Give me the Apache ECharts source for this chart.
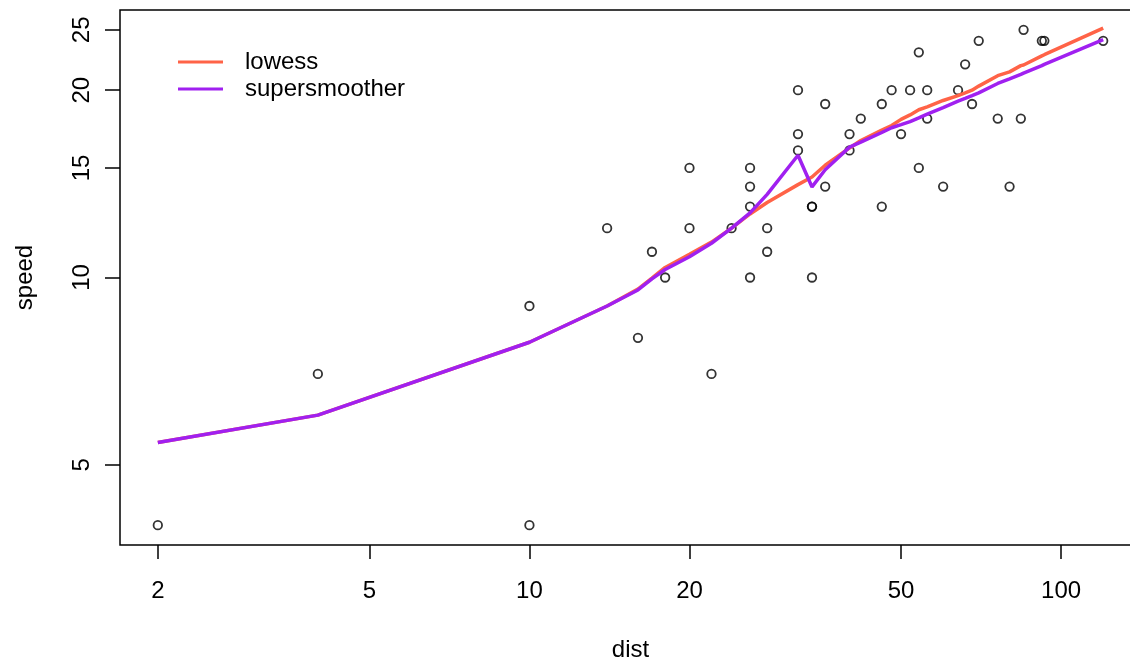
<!DOCTYPE html>
<html>
<head>
<meta charset="utf-8">
<script src="https://cdn.jsdelivr.net/npm/echarts@6/dist/echarts.min.js"></script>
<style>
html,body{margin:0;padding:0;background:#fff;overflow:hidden;}
#chart{width:1130px;height:662px;}
</style>
</head>
<body>
<div id="chart"></div>
<script>
// cars dataset
var dist = [2,10,4,22,16,10,18,26,34,17,28,14,20,24,28,26,34,34,46,26,36,60,80,20,26,54,32,40,32,40,50,42,56,76,84,36,46,68,32,48,52,56,64,66,54,70,92,93,120,85];
var speed = [4,4,7,7,8,9,10,10,10,11,11,12,12,12,12,13,13,13,13,14,14,14,14,15,15,15,16,16,17,17,17,18,18,18,18,19,19,19,20,20,20,20,20,22,23,24,24,24,24,25];

// smoother fits
var smoothX = [2,4,10,14,16,17,18,20,22,24,26,28,32,34,36,40,42,46,48,50,52,54,56,60,64,66,68,70,76,80,84,85,92,93,120];
var lowessY = [5.43,6.01,7.87,9.0,9.58,9.98,10.38,10.9,11.4,12.0,12.65,13.2,14.1,14.5,15.15,16.15,16.6,17.25,17.55,17.95,18.25,18.6,18.8,19.25,19.6,19.8,20.0,20.3,21.1,21.4,21.9,21.95,22.7,22.8,25.15];
var supsmuY = [5.43,6.01,7.87,9.0,9.55,9.95,10.3,10.8,11.35,12.0,12.7,13.6,15.72,13.98,14.9,16.2,16.5,17.1,17.4,17.6,17.8,18.05,18.3,18.75,19.2,19.4,19.6,19.8,20.5,20.85,21.2,21.3,21.9,22.0,24.1];

var xTicks = [2,5,10,20,50,100];
var yTicks = [5,10,15,20,25];

var L = Math.log10;
function pairs(xs, ys){ return xs.map(function(x,i){ return [L(x), L(ys[i])]; }); }
function ext(arr){
  var lo = L(Math.min.apply(null, arr)), hi = L(Math.max.apply(null, arr));
  var pad = (hi - lo) * 0.04;
  return [lo - pad, hi + pad];
}
var xr = ext(dist), yr = ext(speed);
var FONT = '"Liberation Sans", Arial, sans-serif';
function fmt(v){ return String(Math.round(Math.pow(10, v))); }

var chart = echarts.init(document.getElementById('chart'), null, {width: 1130, height: 662});
chart.setOption({
  animation: false,
  backgroundColor: '#fff',
  textStyle: {fontFamily: FONT},
  grid: {left: 120, top: 10, width: 1021, height: 535, outerBoundsMode: 'none', containLabel: false,
         show: true, borderColor: '#000', borderWidth: 1.5, backgroundColor: 'transparent'},
  legend: {
    data: ['lowess', 'supersmoother'],
    orient: 'vertical', left: 173, top: 45,
    icon: 'rect', itemWidth: 45, itemHeight: 3, itemGap: 3,
    textStyle: {fontSize: 24, color: '#000', fontFamily: FONT, padding: [0,0,0,17]}
  },
  xAxis: {
    type: 'value', min: xr[0], max: xr[1],
    name: 'dist', nameLocation: 'middle', nameGap: 93,
    nameTextStyle: {fontSize: 24, color: '#000', fontFamily: FONT},
    axisLine: {show: false},
    splitLine: {show: false},
    axisTick: {show: true, length: 14, lineStyle: {color: '#000', width: 1.5}, customValues: xTicks.map(L)},
    axisLabel: {fontSize: 24, color: '#000', fontFamily: FONT, margin: 34, customValues: xTicks.map(L), formatter: fmt}
  },
  yAxis: {
    type: 'value', min: yr[0], max: yr[1],
    name: 'speed', nameLocation: 'middle', nameGap: 83,
    nameTextStyle: {fontSize: 24, color: '#000', fontFamily: FONT},
    axisLine: {show: false},
    splitLine: {show: false},
    axisTick: {show: true, length: 15, lineStyle: {color: '#000', width: 1.5}, customValues: yTicks.map(L)},
    axisLabel: {fontSize: 24, color: '#000', fontFamily: FONT, margin: 26, rotate: 90, customValues: yTicks.map(L), formatter: fmt}
  },
  series: [
    {
      name: 'points', type: 'scatter', data: pairs(dist, speed),
      symbol: 'circle', symbolSize: 8.5,
      itemStyle: {color: 'rgba(0,0,0,0)', borderColor: '#000', borderWidth: 1.8},
      z: 2
    },
    {
      name: 'lowess', type: 'line', data: pairs(smoothX, lowessY),
      showSymbol: false, symbol: 'none',
      lineStyle: {color: '#FF6347', width: 3.5},
      itemStyle: {color: '#FF6347'},
      z: 3
    },
    {
      name: 'supersmoother', type: 'line', data: pairs(smoothX, supsmuY),
      showSymbol: false, symbol: 'none',
      lineStyle: {color: '#A020F0', width: 3.5},
      itemStyle: {color: '#A020F0'},
      z: 4
    }
  ]
});
</script>
</body>
</html>
